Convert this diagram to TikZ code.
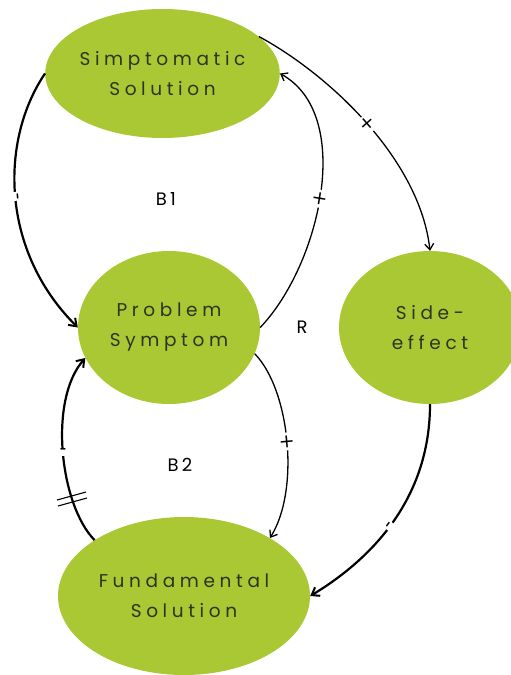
\documentclass[tikz,border=0pt]{standalone}
\usepackage{fontspec}
\setmainfont{Poppins}[LetterSpace=25]
\newfontfamily\labelfont{Poppins}[LetterSpace=18]
\newfontfamily\signfont{DejaVu Sans}
\usetikzlibrary{shapes.geometric,arrows.meta}
\definecolor{leaf}{HTML}{A9C833}
\definecolor{ink}{HTML}{2E3322}
\tikzset{
  var/.style={ellipse, fill=leaf, inner sep=0pt, text=ink, align=center,
    font=\fontsize{18.5}{30}\selectfont},
  loopname/.style={text=black, font=\labelfont\fontsize{18}{20}\selectfont},
  link/.style={line width=1.3pt, -{Straight Barb[length=6pt,width=9pt,line width=1.3pt]}},
  strong/.style={line width=2.2pt, -{Straight Barb[length=7pt,width=10pt,line width=2pt]}},
  sign/.style={fill=white, inner sep=1pt, text=black,
    font=\signfont\fontsize{19}{19}\selectfont},
}
\begin{document}
\begin{tikzpicture}[x=1pt,y=1pt]
  \useasboundingbox (0,0) rectangle (511,-675);
  \begin{scope}
    \clip (0,0) rectangle (511,-675);
    % variables
    \node[var, minimum width=231pt, minimum height=129pt] (ss) at (162.5,-73.5) {Simptomatic\\Solution};
    \node[var, minimum width=182pt, minimum height=153pt] (ps) at (169,-327.5) {Problem\\Symptom};
    \node[var, minimum width=182pt, minimum height=153pt] (se) at (430,-327.5) {Side-\\effect};
    \node[var, minimum width=252pt, minimum height=158pt] (fs) at (184,-596) {Fundamental\\Solution};
  \end{scope}

  % loop names
  \node[loopname] (b1) at (166,-199) {B1};
  \node[loopname] (r)  at (302,-327) {R};
  \node[loopname] (b2) at (180,-465) {B2};

  % B1: symptomatic solution eases the symptom
  \draw[strong] (ss.west) .. controls (0,-140) and (0,-250) .. (ps.west)
    node[sign, sloped, pos=0.5] {-};
  \draw[link] (ps.east) .. controls (320,-265) and (355,-115) .. (ss.east)
    node[sign, sloped, pos=0.48] {+};
  % R: side-effect of the symptomatic solution
  \draw[link] (ss.21) .. controls (330,-75) and (420,-160) .. (se.north)
    node[sign, sloped, pos=0.5] {+};
  \draw[strong] (se.south) .. controls (430,-500) and (370,-560) .. (fs.east)
    node[sign, sloped, pos=0.52] {-};
  % B2: fundamental solution, with delay
  \draw[link] (ps.-17) .. controls (290,-390) and (300,-490) .. (fs.34)
    node[sign, sloped, pos=0.5] {+};
  \draw[strong] (fs.148) .. controls (60,-505) and (48,-400) .. (ps.200)
    node[sign, pos=0.5] {-}
    coordinate[pos=0.27] (delay);
  \draw[line width=1.1pt] ([shift={(-15,-1)}]delay) -- ([shift={(14,7)}]delay);
  \draw[line width=1.1pt] ([shift={(-14,-7)}]delay) -- ([shift={(15,1)}]delay);
\end{tikzpicture}
\end{document}
